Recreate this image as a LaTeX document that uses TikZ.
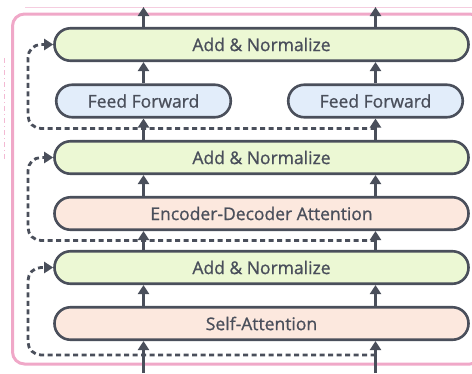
\documentclass[tikz,border=0pt]{standalone}
\usepackage{fontspec}
\setmainfont{Open Sans}
\newfontfamily\semifont{Open Sans}[FakeBold=0.9]
\usepackage{tikz}
\usetikzlibrary{arrows.meta}
\definecolor{edge}{HTML}{4A4F5B}
\definecolor{addfill}{HTML}{ECF8D4}
\definecolor{fffill}{HTML}{E2EDFA}
\definecolor{attfill}{HTML}{FCE8DE}
\definecolor{frame}{HTML}{F0A8C8}
\definecolor{faint}{HTML}{F5CDDF}

\begin{document}
\begin{tikzpicture}[x=1pt,y=-1pt,
        blk/.style={draw=edge,line width=2.6pt,rounded corners=16pt,minimum height=32.5pt,inner sep=0pt,text=edge,font=\semifont\fontsize{17.5}{20}\selectfont},
        wide/.style={blk,minimum width=414pt},
        half/.style={blk,minimum width=174.5pt},
        flow/.style={draw=edge,line width=2.6pt,-{Triangle[length=9pt,width=11pt]}},
        skip/.style={flow,line width=2.8pt,dash pattern=on 5pt off 3.5pt,rounded corners=13pt}]
        \useasboundingbox (0,0) rectangle (472,373);
        
        \draw[faint,line width=1pt] (25,7) -- (472,7);
        \draw[frame!80,line width=1pt,dash pattern=on 5pt off 3pt on 1pt off 3pt] (4,58) -- (4,160);
        \draw[frame,line width=3pt,rounded corners=12pt] (12.5,14) rectangle (482,364);
        
        \node[wide,fill=addfill] (an1) at (261.5,44.5) {Add \& Normalize};
        \node[half,fill=fffill] (ffl) at (143.5,101) {Feed Forward};
        \node[half,fill=fffill] (ffr) at (375.5,101) {Feed Forward};
        \node[wide,fill=addfill] (an2) at (261.5,157.5) {Add \& Normalize};
        \node[wide,fill=attfill] (eda) at (261.5,213.5) {Encoder-Decoder Attention};
        \node[wide,fill=addfill] (an3) at (261.5,267.5) {Add \& Normalize};
        \node[wide,fill=attfill] (sa) at (261.5,323.5) {Self-Attention};
        
        % residual paths
        \coordinate (r1) at (375.5,128.5);
        \coordinate (k1) at (28,128.5);
        \coordinate (r2) at (375.5,240.5);
        \coordinate (k2) at (28,240.5);
        \coordinate (r3) at (375.5,355);
        \coordinate (k3) at (28,355);
        \draw[skip] (r1) -- (k1) |- (an1.west);
        \draw[skip] (r2) -- (k2) |- (an2.west);
        \draw[skip] (r3) -- (k3) |- (an3.west);
        
        % main flow
        \coordinate (inl) at (143.5,373);
        \coordinate (inr) at (375.5,373);
        \coordinate (outl) at (143.5,7);
        \coordinate (outr) at (375.5,7);
        \draw[flow] (inl) -- (sa.south -| inl);
        \draw[flow] (inr) -- (sa.south -| inr);
        \draw[flow] (sa.north -| inl) -- (an3.south -| inl);
        \draw[flow] (sa.north -| inr) -- (an3.south -| inr);
        \draw[flow] (an3.north -| inl) -- (eda.south -| inl);
        \draw[flow] (an3.north -| inr) -- (eda.south -| inr);
        \draw[flow] (eda.north -| inl) -- (an2.south -| inl);
        \draw[flow] (eda.north -| inr) -- (an2.south -| inr);
        \draw[flow] (an2.north -| inl) -- (ffl);
        \draw[flow] (an2.north -| inr) -- (ffr);
        \draw[flow] (ffl) -- (an1.south -| inl);
        \draw[flow] (ffr) -- (an1.south -| inr);
        \draw[flow] (an1.north -| inl) -- (outl);
        \draw[flow] (an1.north -| inr) -- (outr);
    \end{tikzpicture}
\end{document}
